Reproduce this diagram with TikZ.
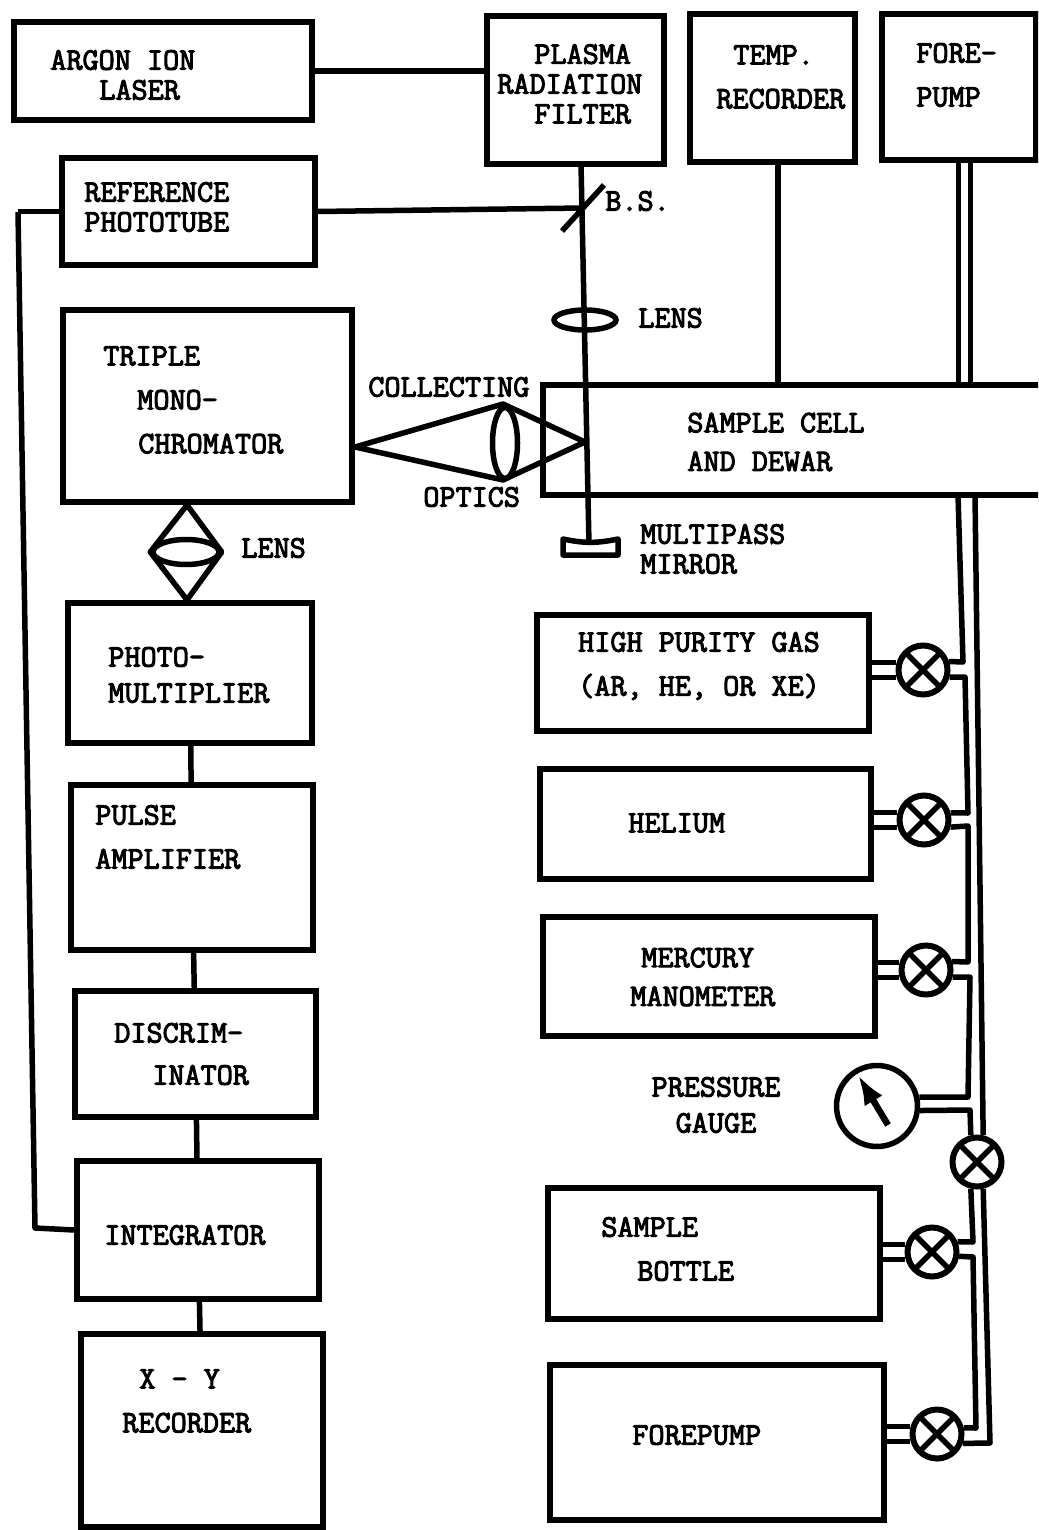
\documentclass[tikz,border=0pt]{standalone}
\usepackage{xcolor}
\usepackage{tikz}
\usepackage{fontspec}
\newfontfamily\typewfont{Latin Modern Mono}[FakeBold=3.2]
\usetikzlibrary{shapes.geometric, arrows.meta, backgrounds}

\begin{document}
\begin{tikzpicture}[
        x=0.02cm, y=-0.02cm,
        box/.style={rectangle, draw, line width=0.115cm, inner sep=0pt},
        lbl/.style={font=\fontsize{17.8}{17}\selectfont\typewfont, inner sep=0pt, anchor=west, align=left},
        clbl/.style={lbl, anchor=center, align=center},
        ln/.style={draw, line width=0.11cm, line join=round},
        pipe/.style={draw, line width=0.1cm, double=white, double distance=0.19cm},
        oplens/.style={ellipse, draw, line width=0.11cm, inner sep=0pt},
        valve/.style={circle, draw, line width=0.12cm, inner sep=0pt, minimum size=0.98cm,
            path picture={\draw[line width=0.11cm]
                (path picture bounding box.north west) -- (path picture bounding box.south east)
                (path picture bounding box.north east) -- (path picture bounding box.south west);}}
        ]

        \path[use as bounding box, clip] (0,0) rectangle (1038,1530);

        %% Left column
        \node[box, minimum width=5.96cm, minimum height=1.96cm] (laser) at (163,71) {};
        \node[box, minimum width=5.06cm, minimum height=2.14cm] (ref) at (188.5,211.5) {};
        \node[box, minimum width=5.78cm, minimum height=3.84cm] (mono) at (207.5,406) {};
        \node[box, minimum width=4.88cm, minimum height=2.80cm] (photo) at (190,673) {};
        \node[box, minimum width=4.84cm, minimum height=3.30cm] (pulse) at (192,867.5) {};
        \node[box, minimum width=4.82cm, minimum height=2.52cm] (discrim) at (195.5,1054) {};
        \node[box, minimum width=4.84cm, minimum height=2.76cm] (integ) at (198,1230) {};
        \node[box, minimum width=4.84cm, minimum height=3.86cm] (xy) at (202,1430.5) {};

        %% Top row and sample cell
        \node[box, minimum width=3.54cm, minimum height=2.96cm] (filter) at (575.5,90) {};
        \node[box, minimum width=3.30cm, minimum height=2.96cm] (temp) at (772.5,88) {};
        \node[box, minimum width=3.08cm, minimum height=2.92cm] (fore) at (959,87) {};
        \node[box, minimum width=10.34cm, minimum height=2.20cm] (cell) at (801.5,440) {};

        %% Right column
        \node[box, minimum width=6.64cm, minimum height=2.32cm] (gas) at (703,673) {};
        \node[box, minimum width=6.62cm, minimum height=2.20cm] (helium) at (705.5,824) {};
        \node[box, minimum width=6.64cm, minimum height=2.38cm] (mercury) at (709,976.5) {};
        \node[box, minimum width=6.64cm, minimum height=2.62cm] (bottle) at (714,1253.5) {};
        \node[box, minimum width=6.68cm, minimum height=3.10cm] (pump) at (717,1442.5) {};

        %% Valves and gauge
        \node[valve] (v1) at (923,670) {};
        \node[valve] (v2) at (924,820) {};
        \node[valve] (v3) at (926,970) {};
        \node[valve] (v4) at (977,1162) {};
        \node[valve] (v5) at (932,1252) {};
        \node[valve] (v6) at (937,1434) {};
        \node[circle, draw, line width=0.11cm, minimum size=1.62cm, inner sep=0pt] (gauge) at (877,1106) {};

        %% Lenses
        \node[oplens, minimum width=1.24cm, minimum height=0.4cm] (blens) at (585,320) {};
        \node[oplens, minimum width=0.5cm, minimum height=1.42cm] (clens) at (505,443) {};
        \node[oplens, minimum width=1.32cm, minimum height=0.5cm] (dlens) at (186,552) {};

        %% Free ends
        \coordinate (beamtop) at (581,164);
        \coordinate (bs) at (583,208);
        \coordinate (bsa) at (562,231);
        \coordinate (bsb) at (604,185);
        \coordinate (mirtop) at (589,545);
        \coordinate (cola) at (355,447);
        \coordinate (colb) at (503,404);
        \coordinate (colc) at (585,442);
        \coordinate (cold) at (503,480);
        \coordinate (mona) at (187,505);
        \coordinate (monb) at (187,600);
        \coordinate (feeda) at (18,212);
        \coordinate (feedb) at (35,1228);
        \coordinate (cellin) at (958,495);
        \coordinate (cellout) at (975,495);
        \coordinate (temptop) at (778,162);
        \coordinate (tempbot) at (778,385);
        \coordinate (forepipe) at (964,385);

        \begin{scope}[on background layer]
            %% ---- Optical path ----
            \draw[ln] (laser.east) -- (filter.west |- laser.east);
            \draw[ln] (beamtop) -- (mirtop);
            \draw[ln] (ref.east) -- (bs);
            \draw[ln] (feeda |- ref.west) -- (ref.west);
            \draw[ln] (feeda) -- (feedb) -- (integ.west);
            \draw[ln] (temptop) -- (tempbot);
            \draw[ln] (cola) -- (colb) -- (colc) -- (cold) -- cycle;
            \draw[ln] (mona) -- (dlens.west) -- (monb) -- (dlens.east) -- cycle;

            %% ---- Signal chain ----
            \draw[ln] (photo) -- (pulse);
            \draw[ln] (pulse) -- (discrim);
            \draw[ln] (discrim) -- (integ);
            \draw[ln] (integ) -- (xy);

            %% ---- Vacuum lines ----
            \draw[pipe, double distance=0.14cm] (forepipe |- fore.south) -- (forepipe);
            \draw[pipe] (gas.east |- v1) -- (v1);
            \draw[pipe] (helium.east |- v2) -- (v2);
            \draw[pipe] (mercury.east |- v3) -- (v3);
            \draw[pipe] (bottle.east |- v5) -- (v5);
            \draw[pipe] (pump.east |- v6) -- (v6);

            \draw[ln] (cellin) -- (963,662) -- (v1.18);
            \draw[ln] (v1.-15) -- (965,677) -- (968,813) -- (v2.15);
            \draw[ln] (v2.-15) -- (968,826) -- (968,962) -- (v3.18);
            \draw[ln] (v3.-15) -- (970,977) -- (968,1097) -- (gauge.12);
            \draw[ln] (gauge.-6) -- (970,1110) -- (v4.103);
            \draw[ln] (v4.-103) -- (973,1242) -- (v5.22);
            \draw[ln] (v5.-9) -- (973,1257) -- (976,1428) -- (v6.13);
            \draw[ln] (cellout) -- (v4.77);
            \draw[ln] (v4.-77) -- (990,1443) -- (v6.-20);
        \end{scope}

        %% Beam splitter, mirror, gauge needle
        \draw[ln] (bsa) -- (bsb);
        \draw[ln, fill=white] (563,539) to[bend right=12] (618,539) -- (618,555) -- (563,555) -- cycle;
        \draw[ln, line width=0.13cm, -{Latex[length=0.6cm, width=0.42cm]}] (888,1125) -- (858,1075);

        %% ---- Texts ----
        \node[lbl] (tlaser) at (50,75) {ARGON ION\\\hspace*{0.98cm}LASER};
        \node[lbl] (tfilter) at (497,84) {\hspace*{0.74cm}PLASMA\\RADIATION\\\hspace*{0.74cm}FILTER};
        \node[lbl] (ttemp) at (716,77) {\hspace*{0.34cm}TEMP.\\[8pt]RECORDER};
        \node[lbl] (tfore) at (916,75) {FORE-\\[8pt]PUMP};
        \node[lbl] (tref) at (84,207) {REFERENCE\\PHOTOTUBE};
        \node[lbl] (tmono) at (103,400) {TRIPLE\\[8pt]\hspace*{0.68cm}MONO-\\[8pt]\hspace*{0.70cm}CHROMATOR};
        \node[lbl] (tbs) at (605,201) {B.S.};
        \node[lbl] (tlensa) at (638,318) {LENS};
        \node[lbl] (tcol) at (368,387) {COLLECTING};
        \node[lbl] (topt) at (423,497) {OPTICS};
        \node[lbl] (tlensb) at (241,548) {LENS};
        \node[lbl] (tcell) at (687,442) {SAMPLE CELL\\[5pt]AND DEWAR};
        \node[lbl] (tmirror) at (640,549) {MULTIPASS\\MIRROR};
        \node[lbl] (tphoto) at (108,675) {PHOTO-\\[3.5pt]MULTIPLIER};
        \node[lbl] (tpulse) at (95,837) {PULSE\\[8pt]AMPLIFIER};
        \node[lbl] (tdiscrim) at (114,1054) {DISCRIM-\\[7pt]\hspace*{0.76cm}INATOR};
        \node[lbl] (tinteg) at (104,1235) {INTEGRATOR};
        \node[lbl] (txy) at (122,1401) {\hspace*{0.34cm}X - Y\\[8pt]RECORDER};
        \node[clbl] (tgas) at (699,666) {HIGH PURITY GAS\\[8pt](AR, HE, OR XE)};
        \node[lbl] (thelium) at (628,823) {HELIUM};
        \node[lbl] (tmercury) at (630,977) {\hspace*{0.22cm}MERCURY\\[5pt]MANOMETER};
        \node[clbl] (tgauge) at (716,1105) {PRESSURE\\[3.5pt]GAUGE};
        \node[lbl] (tbottle) at (601,1249) {SAMPLE\\[8pt]\hspace*{0.72cm}BOTTLE};
        \node[lbl] (tpump) at (632,1435) {FOREPUMP};
    \end{tikzpicture}
\end{document}
